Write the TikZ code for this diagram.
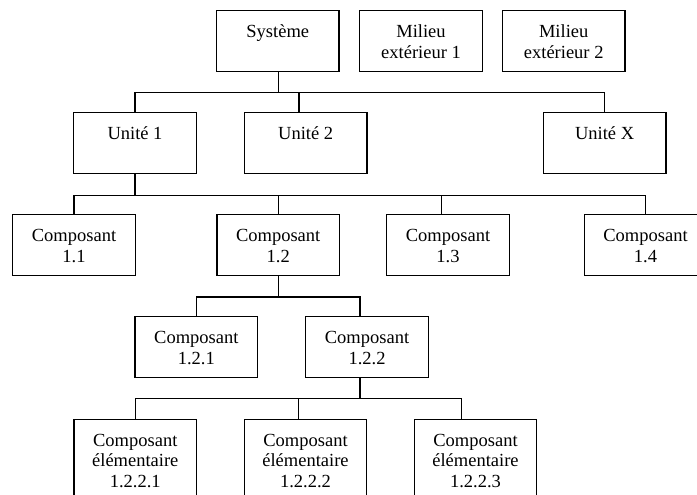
\documentclass[tikz,border=0pt]{standalone}
\usepackage{fontspec}
\setmainfont{Liberation Serif}
\newcommand{\bxt}[2][61pt]{\parbox[c][#1][t]{122.5pt}{\centering\fontsize{18.5}{20.5}\selectfont\rule{0pt}{27pt}#2}}
\tikzset{
  box/.style={draw, line width=1.3pt, inner sep=0pt, anchor=north},
  link/.style={line width=1.3pt}
}
\begin{document}
\begin{tikzpicture}[x=1pt,y=1pt]
\clip (0,0) rectangle (697,-495);
\fill[white] (0,0) rectangle (697,-495);
% level 0
\node[box] (sys)  at (277.8,-10) {\bxt{Système}};
\node[box] (mil1) at (421,-10)   {\bxt{Milieu\\extérieur 1}};
\node[box] (mil2) at (563.7,-10) {\bxt{Milieu\\extérieur 2}};
% level 1
\node[box] (u1) at (135,-112)   {\bxt{Unité 1}};
\node[box] (u2) at (305.7,-112) {\bxt{Unité 2}};
\node[box] (ux) at (604.6,-112) {\bxt{Unité X}};
% level 2
\node[box] (c11) at (74,-214)    {\bxt{Composant\\1.1}};
\node[box] (c12) at (278.2,-214) {\bxt{Composant\\1.2}};
\node[box] (c13) at (448,-214)   {\bxt{Composant\\1.3}};
\node[box] (c14) at (645.5,-214) {\bxt{Composant\\1.4}};
% level 3
\node[box] (c121) at (196.3,-316) {\bxt{Composant\\1.2.1}};
\node[box] (c122) at (367,-316)   {\bxt{Composant\\1.2.2}};
% level 4
\node[box] (e1) at (135.3,-418.5) {\bxt[95pt]{Composant\\élémentaire\\1.2.2.1}};
\node[box] (e2) at (305.5,-418.5) {\bxt[95pt]{Composant\\élémentaire\\1.2.2.2}};
\node[box] (e3) at (475.5,-418.5) {\bxt[95pt]{Composant\\élémentaire\\1.2.2.3}};
% connectors level 0 -> 1
\draw[link] ([xshift=0.9pt]sys.south) -- ++(0,-20.3) coordinate (j1);
\draw[link] (u1.north) |- (ux.north |- j1) -- (ux.north);
\draw[link] ([xshift=-6.7pt]u2.north) -- ([xshift=-6.7pt]u2.north |- j1);
% level 1 -> 2
\draw[link] (u1.south) -- ++(0,-21) coordinate (j2);
\draw[link] (c11.north) |- (c14.north |- j2) -- (c14.north);
\draw[link] (c12.north) -- (c12.north |- j2);
\draw[link] ([xshift=-6.3pt]c13.north) -- ([xshift=-6.3pt]c13.north |- j2);
% level 2 -> 3
\draw[link] (c12.south) -- ++(0,-20.7) coordinate (j3);
\draw[link] (c121.north) |- ([xshift=-7pt]c122.north |- j3) -- ([xshift=-7pt]c122.north);
% level 3 -> 4
\draw[link] ([xshift=-7pt]c122.south) -- ++(0,-20.3) coordinate (j4);
\draw[link] (e1.north) |- ([xshift=-13.8pt]e3.north |- j4) -- ([xshift=-13.8pt]e3.north);
\draw[link] ([xshift=-7.2pt]e2.north) -- ([xshift=-7.2pt]e2.north |- j4);
\end{tikzpicture}
\end{document}
